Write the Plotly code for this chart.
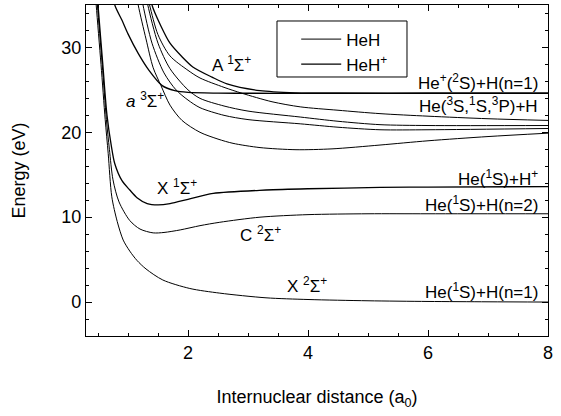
import plotly.graph_objects as go

# ---- HeH+ curves ----
x_X1 = [0.47, 0.5, 0.58, 0.65, 0.72, 0.78, 0.9, 1.03, 1.15, 1.32, 1.5, 1.7, 2.0, 2.42, 3.3, 4.0, 5.2, 6.0, 8.0]
y_X1 = [38, 35, 28, 22, 18.5, 16.3, 14.3, 13.2, 12.3, 11.6, 11.45, 11.6, 12.1, 12.8, 13.2, 13.35, 13.5, 13.55, 13.6]

x_a3 = [0.74, 0.78, 0.9, 1.0, 1.17, 1.35, 1.57, 1.78, 2.0, 2.5, 3.0, 4.0, 5.0, 6.0, 7.0, 8.0]
y_a3 = [37, 35, 33.2, 31.6, 29.3, 27.3, 25.5, 24.9, 24.7, 24.62, 24.6, 24.6, 24.6, 24.6, 24.6, 24.6]

x_A1 = [1.36, 1.4, 1.55, 1.7, 1.9, 2.08, 2.4, 2.65, 3.2, 3.8, 4.5, 6.0, 8.0]
y_A1 = [37, 35, 32.5, 30.5, 28.9, 27.7, 26.5, 25.7, 24.9, 24.65, 24.6, 24.6, 24.6]

# ---- HeH curves ----
x_X2 = [0.44, 0.47, 0.55, 0.62, 0.67, 0.73, 0.82, 0.92, 1.03, 1.15, 1.3, 1.58, 2.03, 2.53, 3.3, 4.0, 5.0, 6.0, 7.0, 8.0]
y_X2 = [38, 35, 28, 21.5, 17.5, 12.4, 9.5, 7.3, 6.0, 4.9, 3.9, 2.6, 1.6, 1.05, 0.5, 0.3, 0.15, 0.07, 0.03, 0.0]

x_C2 = [0.46, 0.49, 0.57, 0.64, 0.69, 0.75, 0.85, 1.03, 1.2, 1.42, 1.6, 1.87, 2.2, 2.53, 3.2, 4.0, 5.0, 6.0, 8.0]
y_C2 = [38, 35, 28, 21.5, 18, 14.4, 11.8, 9.6, 8.6, 8.15, 8.2, 8.5, 9.0, 9.4, 10.0, 10.3, 10.4, 10.4, 10.4]

x_M = [1.1, 1.17, 1.3, 1.42, 1.55, 1.7, 1.9, 2.2, 2.5, 2.75, 3.2, 3.8, 4.4, 5.2, 6.0, 7.0, 8.0]
y_M = [38, 35, 31, 27.6, 25.5, 23.2, 21.4, 20.0, 19.2, 18.7, 18.2, 17.95, 18.05, 18.5, 19.0, 19.5, 19.9]

x_N1 = [1.3, 1.36, 1.5, 1.7, 2.0, 2.2, 2.6, 2.9, 3.4, 3.87, 4.5, 5.2, 6.0, 7.0, 8.0]
y_N1 = [37, 35, 31.5, 29, 27.3, 26.4, 25.3, 24.6, 23.6, 23.0, 22.6, 22.2, 21.9, 21.6, 21.4]

x_N2 = [1.28, 1.33, 1.5, 1.7, 2.0, 2.2, 2.6, 3.0, 3.87, 4.5, 5.2, 6.0, 8.0]
y_N2 = [37, 35, 30.5, 27.5, 25.0, 24.0, 23.1, 22.5, 21.8, 21.3, 20.9, 20.8, 20.8]

x_N3 = [1.2, 1.25, 1.4, 1.6, 1.8, 2.0, 2.2, 2.6, 3.0, 3.87, 4.5, 5.2, 6.0, 8.0]
y_N3 = [37, 35, 30.5, 27, 25, 23.8, 22.9, 22.0, 21.5, 21.0, 20.6, 20.3, 20.3, 20.45]

heh_curves = [(x_X2, y_X2), (x_C2, y_C2), (x_M, y_M), (x_N1, y_N1), (x_N2, y_N2), (x_N3, y_N3)]
hehp_curves = [(x_X1, y_X1), (x_a3, y_a3), (x_A1, y_A1)]

# state labels (text, x, y)
state_labels = [
    ("A <sup>1</sup>Σ<sup>+</sup>", 2.73, 28.1),
    ("<i>a</i> <sup>3</sup>Σ<sup>+</sup>", 1.28, 23.8),
    ("X <sup>1</sup>Σ<sup>+</sup>", 1.82, 13.5),
    ("C <sup>2</sup>Σ<sup>+</sup>", 3.2, 8.0),
    ("X <sup>2</sup>Σ<sup>+</sup>", 3.98, 2.0),
]
limit_labels = [
    ("He<sup>+</sup>(<sup>2</sup>S)+H(n=1)", 25.9),
    ("He(<sup>3</sup>S,<sup>1</sup>S,<sup>3</sup>P)+H", 23.2),
    ("He(<sup>1</sup>S)+H<sup>+</sup>", 14.6),
    ("He(<sup>1</sup>S)+H(n=2)", 11.5),
    ("He(<sup>1</sup>S)+H(n=1)", 1.3),
]

FONT = "Liberation Sans, Arial, sans-serif"
fig = go.Figure()
for i, (xs, ys) in enumerate(heh_curves):
    fig.add_trace(go.Scatter(x=xs, y=ys, mode="lines", name="HeH", legendgroup="heh",
                             showlegend=(i == 0),
                             line=dict(color="black", width=1.0, shape="spline", smoothing=0.8)))
for i, (xs, ys) in enumerate(hehp_curves):
    fig.add_trace(go.Scatter(x=xs, y=ys, mode="lines", name="HeH<sup>+</sup>", legendgroup="hehp",
                             showlegend=(i == 0),
                             line=dict(color="black", width=1.3, shape="spline", smoothing=0.8)))

for t, x, y in state_labels:
    fig.add_annotation(x=x, y=y, text=t, showarrow=False, xanchor="center", yanchor="middle",
                       font=dict(size=17, color="black", family=FONT))
for t, y in limit_labels:
    fig.add_annotation(x=7.86, y=y, text=t, showarrow=False, xanchor="right", yanchor="middle",
                       font=dict(size=17, color="black", family=FONT))

# legend frame
fig.add_shape(type="rect", xref="paper", yref="paper", x0=0.4134, x1=0.6948, y0=0.7825, y1=0.9517,
              line=dict(color="black", width=1), fillcolor="white", layer="below")

axis_common = dict(showline=True, linecolor="black", linewidth=1.3, mirror="allticks",
                   ticks="inside", ticklen=6, tickwidth=1, tickcolor="black",
                   showgrid=False, zeroline=False,
                   tickfont=dict(size=18, color="black", family=FONT))
fig.update_xaxes(range=[0.3, 8.0], tickvals=[2, 4, 6, 8],
                 minor=dict(dtick=0.5, tick0=0, ticks="inside", ticklen=3, tickcolor="black", showgrid=False),
                 title=dict(text="Internuclear distance (a<sub>0</sub>)", standoff=28,
                            font=dict(size=18, color="black", family=FONT)),
                 **axis_common)
fig.update_yaxes(range=[-4, 35], tickvals=[0, 10, 20, 30],
                 minor=dict(dtick=2, tick0=0, ticks="inside", ticklen=3, tickcolor="black", showgrid=False),
                 title=dict(text="Energy (eV)", standoff=30,
                            font=dict(size=18, color="black", family=FONT)),
                 **axis_common)

fig.update_layout(
    width=561, height=416,
    margin=dict(l=86, r=13, t=5, b=80),
    paper_bgcolor="white", plot_bgcolor="white",
    font=dict(family=FONT, color="black"),
    legend=dict(x=0.455, y=0.95, xanchor="left", yanchor="top",
                bgcolor="rgba(0,0,0,0)", borderwidth=0,
                font=dict(size=17, color="black", family=FONT),
                itemwidth=40, tracegroupgap=0),
)

fig.write_html("out.html")
